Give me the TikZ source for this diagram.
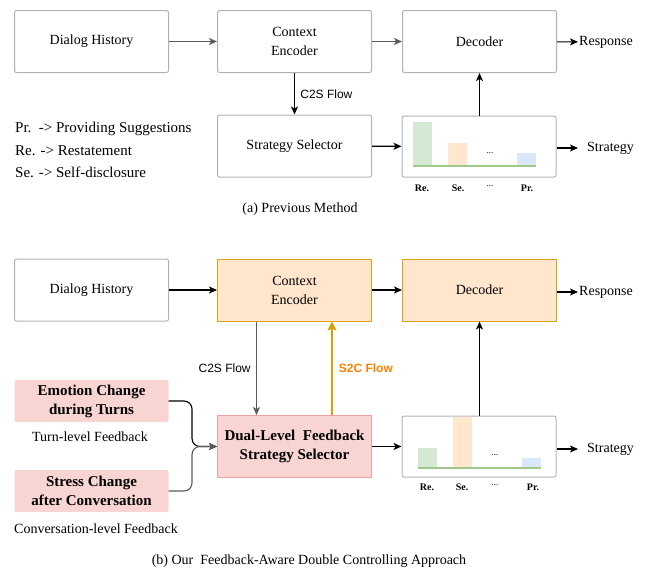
\documentclass[tikz,border=0pt]{standalone}
\usepackage{fontspec}
\setmainfont{Liberation Serif}
\setsansfont{Liberation Sans}
\usetikzlibrary{positioning}
\usetikzlibrary{arrows.meta}
\usetikzlibrary{calc}

\definecolor{boxgray}{RGB}{178,178,178}
\definecolor{encfill}{RGB}{255,230,204}
\definecolor{encline}{RGB}{222,160,20}
\definecolor{fbfill}{RGB}{248,212,210}
\definecolor{fbline}{RGB}{240,160,158}
\definecolor{barg}{RGB}{213,232,212}
\definecolor{baro}{RGB}{255,230,204}
\definecolor{barb}{RGB}{218,232,252}
\definecolor{baseg}{RGB}{160,200,140}
\definecolor{flowtxt}{RGB}{255,128,0}
\definecolor{flowline}{RGB}{218,160,0}
\definecolor{linegray}{RGB}{90,90,90}

\begin{document}
\begin{tikzpicture}[
  x=1pt, y=-1pt,
  font=\fontsize{14}{19}\selectfont,
  box/.style={draw=boxgray, line width=1pt, rounded corners=2pt, align=center, minimum width=154pt, minimum height=62pt},
  encbox/.style={box, draw=encline, fill=encfill, sharp corners},
  dualbox/.style={box, draw=fbline, fill=fbfill, sharp corners, font=\fontsize{15}{19}\selectfont\bfseries},
  fbbox/.style={fill=fbfill, rounded corners=2pt, align=center, minimum width=154pt, minimum height=42pt, font=\fontsize{15}{19}\selectfont\bfseries},
  arrow/.style={-{Stealth[length=8pt,width=7pt,inset=2pt]}, line width=1.1pt},
  grayarrow/.style={arrow, draw=linegray, line width=1.4pt},
  legend/.style={anchor=west, inner sep=0pt, font=\fontsize{15}{19}\selectfont},
  outlabel/.style={anchor=west, inner sep=0pt, inner xsep=9pt},
  flow/.style={font=\fontsize{12}{14}\selectfont\sffamily},
  barlabel/.style={font=\fontsize{10}{12}\selectfont\bfseries}
]
\useasboundingbox (0,0) rectangle (651,571);

% (a) previous method
\node[box] (hist) at (91.5,41.5) {Dialog History};
\node[box] (enc) at (294.5,41.5) {Context\\Encoder};
\node[box] (dec) at (479.5,41.5) {Decoder};
\node[anchor=west, inner sep=1pt] (resp) at (578,42) {Response};
\node[box] (sel) at (294.5,146) {Strategy Selector};
\node[box, minimum width=154pt, minimum height=61pt] (dist) at (479,146.5) {};
\node[outlabel] (strat) at (578,148) {Strategy};

\fill[barg] (413,122) rectangle (432,167);
\fill[baro] (448,143) rectangle (467,167);
\fill[barb] (517,153) rectangle (536,167);
\draw[baseg, line width=2pt] (413,166) -- (536,166);
\node[font=\fontsize{9}{10}\selectfont] (dots) at (490,153) {...};

\node[barlabel] (re) at (422,188) {Re.};
\node[barlabel] (se) at (458,188) {Se.};
\node[font=\fontsize{9}{10}\selectfont] (etc) at (490,186) {...};
\node[barlabel] (pr) at (527,188) {Pr.};

\node[legend] (leg1) at (15,129) {Pr.\ \ -> Providing Suggestions};
\node[legend] (leg2) at (15,151) {Re. -> Restatement};
\node[legend] (leg3) at (15,172) {Se. -> Self-disclosure};

\draw[grayarrow] (hist) -- (enc);
\draw[grayarrow] (enc) -- (dec);
\draw[arrow] (dec) -- (resp);
\draw[arrow] (enc) -- node[flow, right=2pt]{C2S Flow} (sel);
\draw[arrow] (sel) -- (dist);
\draw[arrow] (dist.east |- strat.west) -- (strat.west);
\draw[arrow] (dist.north -| dec.south) -- (dec.south);

\node (capa) at (300,209) {(a) Previous Method};

% (b) our approach
\node[box] (hist2) at (91.5,290) {Dialog History};
\node[encbox] (enc2) at (294.5,290) {Context\\Encoder};
\node[encbox] (dec2) at (479.5,290) {Decoder};
\node[anchor=west, inner sep=1pt] (resp2) at (578,292) {Response};
\node[dualbox] (dual) at (294.5,446.5) {Dual-Level\ \ Feedback\\Strategy Selector};
\node[box, minimum width=154pt, minimum height=61pt] (dist2) at (479,446.5) {};
\node[outlabel] (strat2) at (578,449) {Strategy};

\node[fbbox] (emo) at (91.5,401) {Emotion Change\\during Turns};
\node (turn) at (90,437) {Turn-level Feedback};
\node[fbbox] (stress) at (91.5,491) {Stress Change\\after Conversation};
\node (conv) at (96,529) {Conversation-level Feedback};

\fill[barg] (418,448) rectangle (437,469);
\fill[baro] (453,417) rectangle (472,469);
\fill[barb] (522,458) rectangle (541,469);
\draw[baseg, line width=2pt] (418,468) -- (541,468);
\node[font=\fontsize{9}{10}\selectfont] (dots2) at (495,455) {...};

\node[barlabel] (re2) at (427,487) {Re.};
\node[barlabel] (se2) at (462,487) {Se.};
\node[font=\fontsize{9}{10}\selectfont] (etc2) at (495,485) {...};
\node[barlabel] (pr2) at (533,487) {Pr.};

\coordinate (join) at (192,446.5);

\draw[arrow] (hist2) -- (enc2);
\draw[arrow] (enc2) -- (dec2);
\draw[arrow] (dec2.east |- resp2.west) -- (resp2.west);
\draw[grayarrow, line width=1.1pt] ([xshift=-38pt]enc2.south) -- node[flow, left=2pt, pos=0.5]{C2S Flow} ([xshift=-38pt]dual.north);
\draw[arrow, draw=flowline, -{Stealth[length=9pt,width=9pt,inset=2pt]}] ([xshift=37.5pt]dual.north) -- node[flow, right=3pt, pos=0.5, text=flowtxt, font=\fontsize{12}{14}\selectfont\sffamily\bfseries]{S2C Flow} ([xshift=37.5pt]enc2.south);
\draw[arrow, rounded corners=8pt] (emo.east) -| (join) -- (dual.west);
\draw[arrow, rounded corners=8pt, draw=linegray] (stress.east) -| (join) -- (dual.west);
\draw[arrow] (dual) -- (dist2);
\draw[arrow] (dist2.east |- strat2.west) -- (strat2.west);
\draw[arrow] (dist2.north -| dec2.south) -- (dec2.south);

\node (capb) at (309,561) {(b) Our\ \ Feedback-Aware Double Controlling Approach};

\end{tikzpicture}
\end{document}
